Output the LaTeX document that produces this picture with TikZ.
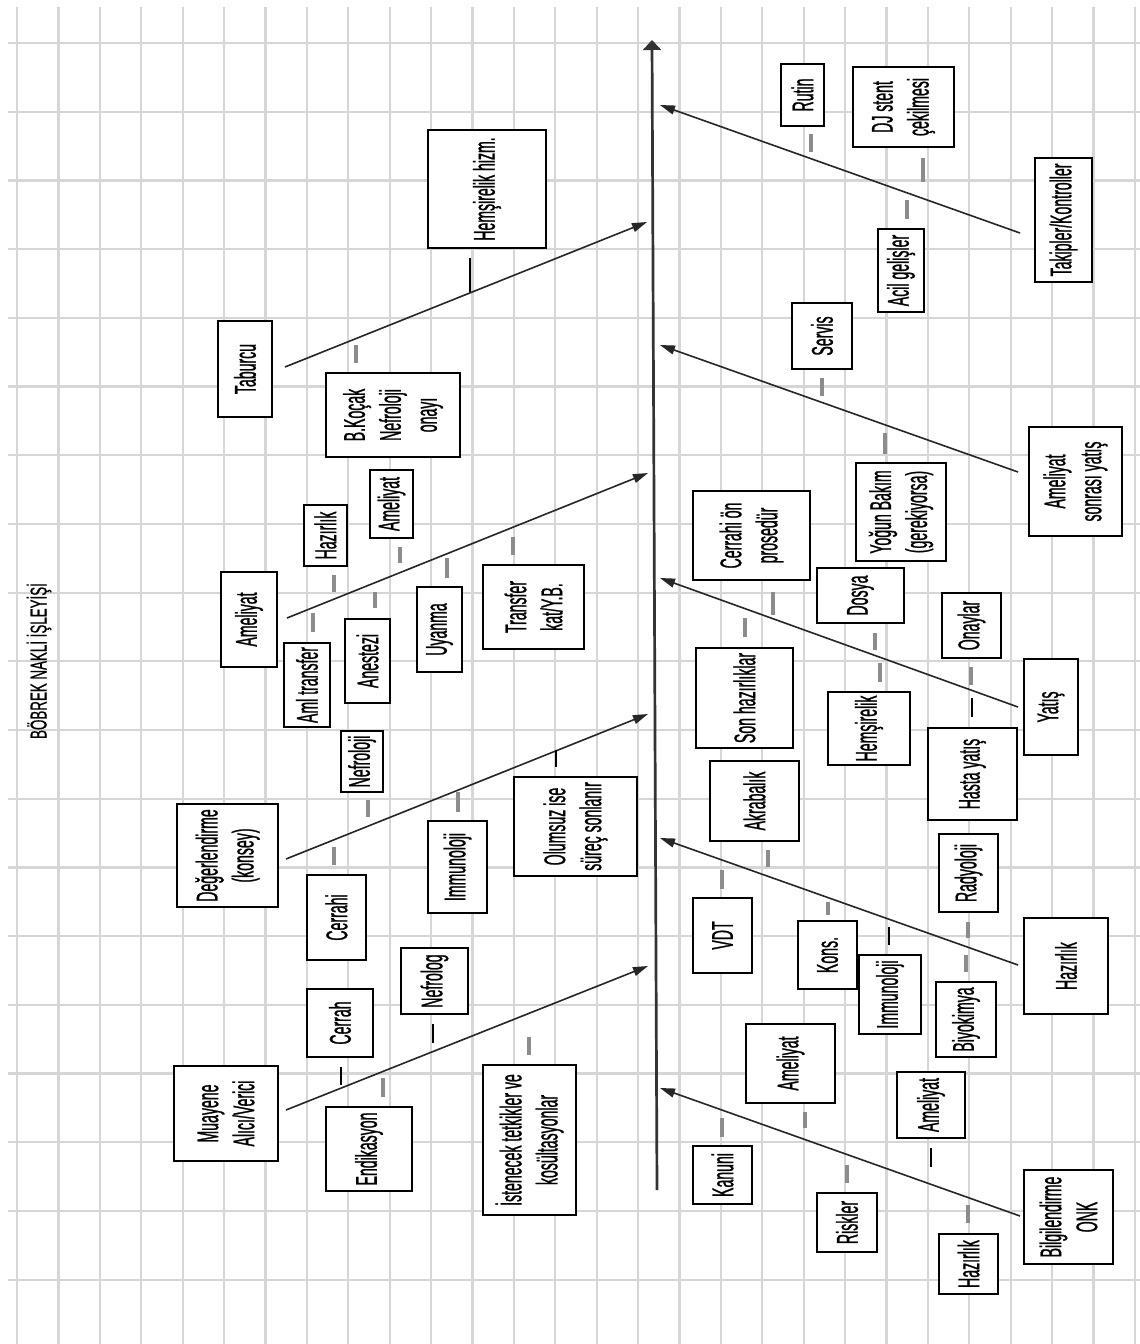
\documentclass[tikz,border=0pt]{standalone}
\usepackage{fontspec}
\setmainfont{Liberation Sans}
\newfontfamily\boxfont{Liberation Sans}[FakeStretch=0.47,FakeBold=0.8]
\newfontfamily\titlefont{Liberation Sans}[FakeStretch=0.58,FakeBold=0.6]
\usetikzlibrary{arrows.meta}
\tikzset{
  box/.style={draw=black, line width=2pt, fill=white, inner sep=0pt, rotate=90, align=center,
    font=\boxfont\fontsize{30}{36}\selectfont},
  branch/.style={line width=1.6pt, draw=black!85, -{Triangle[length=15pt,width=9pt]}},
  spine/.style={line width=2.7pt, draw=black!80, -{Triangle[length=10pt,width=18pt]}},
  gdash/.style={line width=4pt, draw=black!45},
  bdash/.style={line width=2pt, draw=black},
  gridline/.style={line width=2.2pt, draw=black!16},
}
\newcommand{\bx}[6]{\node[box, minimum width={(#5)-(#4)}, minimum height={(#3)-(#2)}] (#1) at ({((#2)+(#3))/2},{((#4)+(#5))/2}) {#6};}
\newcommand{\dsh}[4]{\draw[#4] (#1,#2) -- (#1,#3);}
\begin{document}
\begin{tikzpicture}[x=1pt,y=-1pt]
\fill[white] (0,0) rectangle (1140,1344);
\useasboundingbox (0,0) rectangle (1140,1344);
% grid
\foreach \k in {0,...,27} { \draw[gridline] ({17+41.4*\k},7) -- ({17+41.4*\k},1344); }
\foreach \k in {0,...,18} { \draw[gridline] (8,{43+68.7*\k}) -- (1140,{43+68.7*\k}); }
% title
\node[rotate=90, font=\titlefont\fontsize{23}{27}\selectfont, inner sep=0pt] (title) at (39,661) {BÖBREK NAKLİ İŞLEYİŞİ};
% spine
\coordinate (sp0) at (657,1190);
\coordinate (sp1) at (652,40);
\draw[spine] (sp0) -- (sp1);
% branches
\coordinate (l1s) at (286,1110); \coordinate (l1e) at (648,966);
\coordinate (l2s) at (286,859);  \coordinate (l2e) at (648,714);
\coordinate (l3s) at (287,618);  \coordinate (l3e) at (648,473);
\coordinate (l4s) at (285,367);  \coordinate (l4e) at (647,222);
\coordinate (r1s) at (1020,1216); \coordinate (r1e) at (660,1088);
\coordinate (r2s) at (1018,965);  \coordinate (r2e) at (660,838);
\coordinate (r3s) at (1018,707);  \coordinate (r3e) at (660,578);
\coordinate (r4s) at (1018,472);  \coordinate (r4e) at (660,345);
\coordinate (r5s) at (1020,233);  \coordinate (r5e) at (660,105);
\foreach \b in {l1,l2,l3,l4,r1,r2,r3,r4,r5} { \draw[branch] (\b s) -- (\b e); }
% dashes
\dsh{356}{345}{363}{gdash}
\dsh{470}{258}{292}{bdash}
\dsh{811}{134}{152}{gdash}
\dsh{923}{158}{182}{gdash}
\dsh{907}{200}{219}{gdash}
\dsh{822}{378}{396}{gdash}
\dsh{885}{433}{454}{gdash}
\dsh{334}{575}{592}{gdash}
\dsh{375}{592}{608}{gdash}
\dsh{313}{613}{632}{gdash}
\dsh{368}{800}{817}{gdash}
\dsh{334}{847}{865}{gdash}
\dsh{400}{547}{563}{gdash}
\dsh{447}{558}{578}{gdash}
\dsh{513}{537}{555}{gdash}
\dsh{458}{792}{812}{gdash}
\dsh{556}{750}{767}{bdash}
\dsh{745}{618}{637}{gdash}
\dsh{722}{870}{889}{gdash}
\dsh{773}{592}{615}{gdash}
\dsh{875}{633}{650}{gdash}
\dsh{880}{663}{682}{gdash}
\dsh{971}{667}{685}{gdash}
\dsh{972}{698}{717}{bdash}
\dsh{768}{850}{867}{gdash}
\dsh{341}{1067}{1085}{bdash}
\dsh{433}{1024}{1043}{bdash}
\dsh{529}{1037}{1055}{gdash}
\dsh{383}{1078}{1097}{gdash}
\dsh{722}{1118}{1137}{gdash}
\dsh{828}{902}{915}{gdash}
\dsh{889}{927}{945}{bdash}
\dsh{968}{922}{938}{gdash}
\dsh{966}{955}{972}{gdash}
\dsh{805}{1112}{1128}{gdash}
\dsh{847}{1165}{1183}{gdash}
\dsh{931}{1148}{1167}{bdash}
\dsh{968}{1205}{1223}{gdash}
% left boxes
\bx{muayene}{174}{278}{1066}{1161}{Muayene\\Alıcı/Verici}
\bx{deger}{177}{278}{804}{907}{Değerlendirme\\(konsey)}
\bx{amel1}{221}{277}{572}{667}{Ameliyat}
\bx{taburcu}{218}{272}{321}{417}{Taburcu}
\bx{hemhizm}{428}{546}{130}{248}{Hemşirelik hizm.}
\bx{bkocak}{326}{460}{373}{457}{B.Koçak\\Nefroloji\\onayı}
\bx{hazirlik1}{304}{347}{505}{566}{Hazırlık}
\bx{amel2}{370}{413}{470}{538}{Ameliyat}
\bx{amltr}{284}{330}{643}{727}{Aml transfer}
\bx{anestezi}{345}{390}{619}{703}{Anestezi}
\bx{uyanma}{417}{462}{587}{672}{Uyanma}
\bx{transfer}{483}{584}{565}{649}{Transfer\\kat/Y.B.}
\bx{nefroloji}{341}{383}{731}{792}{Nefroloji}
\bx{cerrahi}{307}{366}{875}{960}{Cerrahi}
\bx{immun1}{428}{487}{821}{913}{Immunoloji}
\bx{olumsuz}{514}{637}{777}{876}{Olumsuz ise\\süreç sonlanır}
\bx{cerrah}{307}{373}{989}{1057}{Cerrah}
\bx{endik}{326}{412}{1107}{1191}{Endikasyon}
\bx{nefrolog}{401}{468}{948}{1014}{Nefrolog}
\bx{istenecek}{483}{576}{1065}{1215}{İstenecek tetkikler ve\\kosültasyonlar}
% right boxes
\bx{rutin}{781}{824}{64}{126}{Rutin}
\bx{djstent}{853}{954}{67}{147}{DJ stent\\çekilmesi}
\bx{acil}{878}{924}{229}{312}{Acil gelişler}
\bx{takip}{1035}{1092}{158}{282}{Takipler/Kontroller}
\bx{servis}{792}{852}{303}{369}{Servis}
\bx{amsonra}{1029}{1122}{427}{536}{Ameliyat\\sonrası yatış}
\bx{yogun}{856}{946}{463}{561}{Yoğun Bakım\\(gerekiyorsa)}
\bx{cerrahion}{693}{810}{491}{580}{Cerrahi ön\\prosedür}
\bx{dosya}{817}{904}{568}{623}{Dosya}
\bx{onaylar}{942}{1001}{593}{658}{Onaylar}
\bx{sonhaz}{696}{793}{648}{748}{Son hazırlıklar}
\bx{hemsirelik}{828}{910}{692}{765}{Hemşirelik}
\bx{yatis}{1024}{1078}{659}{755}{Yatış}
\bx{hastayatis}{928}{1017}{728}{820}{Hasta yatış}
\bx{akrabalik}{710}{799}{761}{841}{Akrabalık}
\bx{radyoloji}{939}{998}{834}{912}{Radyoloji}
\bx{vdt}{693}{752}{898}{973}{VDT}
\bx{kons}{798}{857}{921}{989}{Kons.}
\bx{immun2}{859}{921}{955}{1034}{Immunoloji}
\bx{biyokimya}{936}{996}{982}{1057}{Biyokimya}
\bx{hazirlik2}{1024}{1108}{918}{1014}{Hazırlık}
\bx{amel3}{746}{835}{1024}{1103}{Ameliyat}
\bx{amel4}{897}{965}{1072}{1138}{Ameliyat}
\bx{kanuni}{693}{752}{1146}{1204}{Kanuni}
\bx{riskler}{817}{877}{1193}{1252}{Riskler}
\bx{hazirlik3}{939}{998}{1234}{1294}{Hazırlık}
\bx{bilgi}{1024}{1113}{1170}{1264}{Bilgilendirme\\ONK}
\end{tikzpicture}
\end{document}
